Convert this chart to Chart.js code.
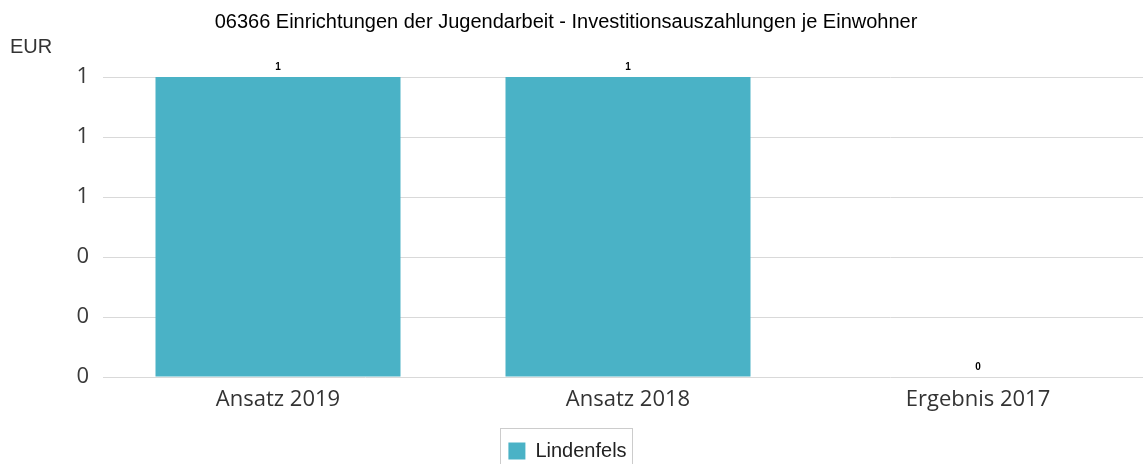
<!DOCTYPE html>
<html>
<head>
<meta charset="utf-8">
<script src="https://cdn.jsdelivr.net/npm/chart.js@4"></script>
<style>
  body { margin: 0; overflow: hidden; background: #fff; }
  #wrap { width: 1153px; height: 471px; }
</style>
</head>
<body>
<div id="wrap"><canvas id="chartJugend"></canvas></div>
<script>
const kategorien = ['Ansatz 2019', 'Ansatz 2018', 'Ergebnis 2017'];
const werteLindenfels = [1, 1, 0];
const serienName = 'Lindenfels';
const titel = '06366 Einrichtungen der Jugendarbeit - Investitionsauszahlungen je Einwohner';
const einheit = 'EUR';

const farbe = '#4ab2c6';

// Titel, Einheit, Werte ueber den Balken und Rahmen um die Legende
const extras = {
    id: 'extras',
    afterLayout(chart) {
        // Legende etwas nach links, wie im Original
        if (chart.legend) {
            chart.legend.left -= 9;
            chart.legend.right -= 9;
        }
    },
    afterDraw(chart) {
        const ctx = chart.ctx;
        ctx.save();
        ctx.fillStyle = '#000';
        ctx.font = '20px "Liberation Sans", Arial, sans-serif';
        ctx.textAlign = 'center';
        ctx.textBaseline = 'middle';
        ctx.fillText(titel, 566, 22);

        ctx.fillStyle = '#333';
        ctx.textAlign = 'left';
        ctx.fillText(einheit, 10, 47);

        const meta = chart.getDatasetMeta(0);
        ctx.fillStyle = '#000';
        ctx.font = 'bold 10px "Liberation Sans", Arial, sans-serif';
        ctx.textAlign = 'center';
        ctx.textBaseline = 'bottom';
        meta.data.forEach((bar, i) => {
            ctx.fillText(String(werteLindenfels[i]), bar.x, bar.y - 5);
        });

        const legend = chart.legend;
        if (legend && legend.legendHitBoxes.length) {
            const hb = legend.legendHitBoxes[0];
            ctx.strokeStyle = '#cccccc';
            ctx.lineWidth = 1;
            const oben = Math.round(hb.top + hb.height / 2) - 22.5;
            ctx.strokeRect(Math.round(hb.left) - 7.5, oben, Math.round(hb.width) + 14, 50);
        }
        ctx.restore();
    }
};

new Chart(document.getElementById('chartJugend').getContext('2d'), {
    type: 'bar',
    data: {
        labels: kategorien,
        datasets: [{
            label: serienName,
            data: werteLindenfels,
            backgroundColor: farbe,
            borderWidth: 0,
            barPercentage: 0.7,
            categoryPercentage: 1
        }]
    },
    options: {
        responsive: true,
        maintainAspectRatio: false,
        animation: false,
        layout: { padding: { top: 77, left: 0, right: 0, bottom: 0 } },
        plugins: {
            title: { display: false },
            tooltip: { enabled: false },
            legend: {
                position: 'bottom',
                labels: {
                    boxWidth: 17,
                    boxHeight: 17,
                    color: '#222',
                    padding: 3,
                    font: { family: '"Liberation Sans", Arial, sans-serif', size: 20 }
                }
            }
        },
        scales: {
            x: {
                afterFit(scale) { scale.height = 61; },
                grid: { display: false, drawTicks: false },
                border: { display: false },
                ticks: {
                    color: '#333',
                    padding: 10,
                    font: { family: '"Open Sans", sans-serif', size: 22 }
                }
            },
            y: {
                min: 0,
                max: 1,
                afterFit(scale) { scale.width = 103; },
                grid: { color: '#d9d9d9', drawTicks: false },
                border: { display: false },
                ticks: {
                    stepSize: 0.2,
                    color: '#3a3a3a',
                    padding: 14,
                    font: { family: '"Open Sans", sans-serif', size: 22 },
                    callback: value => Math.round(value)
                }
            }
        }
    },
    plugins: [extras]
});
</script>
</body>
</html>
